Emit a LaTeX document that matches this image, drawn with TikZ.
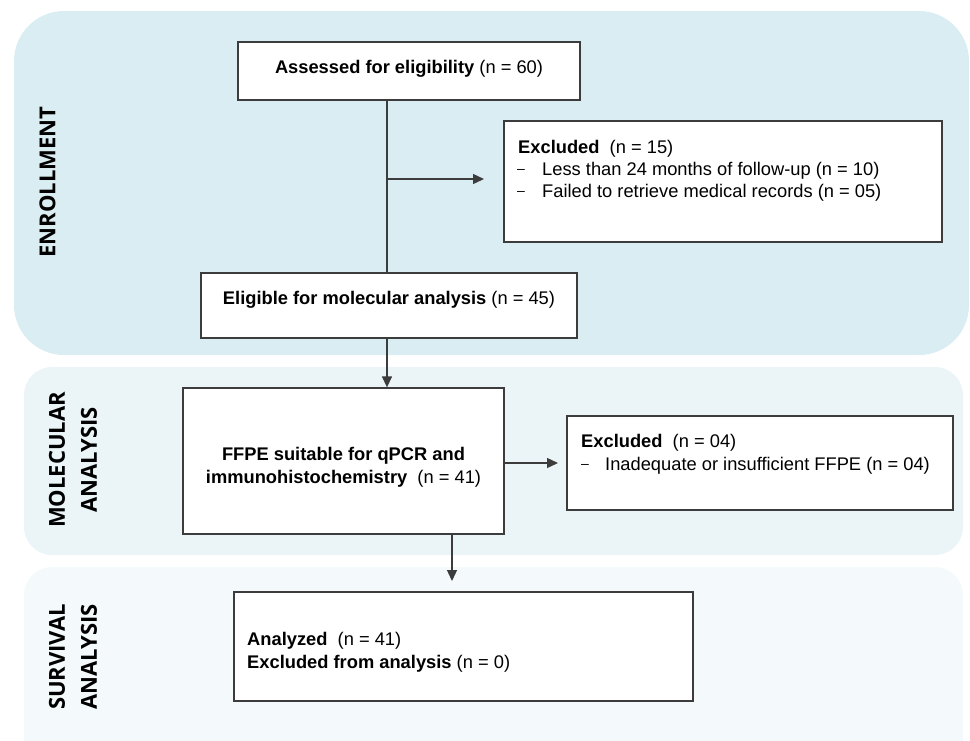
\documentclass[tikz,border=0pt]{standalone}
\usepackage{fontspec}
\setmainfont{Liberation Sans}
\newfontfamily\secfont{Open Sans}
\usetikzlibrary{arrows.meta}
\definecolor{bandA}{HTML}{DAEDF3}
\definecolor{bandB}{HTML}{EBF5F8}
\definecolor{bandC}{HTML}{F4F9FB}
\definecolor{edgec}{HTML}{3C3C3C}
\newcommand{\dashmark}{\raisebox{1.8pt}{\fontsize{14}{22}\selectfont –}}
\tikzset{
  box/.style={draw=edgec, line width=1.3pt, fill=white, inner sep=0pt},
  txt/.style={inner sep=0pt, font=\fontsize{18.3}{22}\selectfont, text=black},
  sec/.style={inner sep=0pt, rotate=90, align=center, font=\secfont\bfseries\fontsize{22}{32}\selectfont, text=black},
  conn/.style={draw=edgec, line width=1.3pt},
  arr/.style={conn, -{Triangle[length=11pt,width=10pt]}}
}
\begin{document}
\begin{tikzpicture}[x=1pt,y=-1pt]
\useasboundingbox (0,0) rectangle (970,740);
% bands
\fill[bandA, rounded corners=50pt] (14,11) rectangle (969,355);
\fill[bandB, rounded corners=28pt] (24,367) rectangle (963,555);
\fill[bandC, rounded corners=28pt] (24,567) rectangle (963,770);
% section labels
\node[sec] (lenr) at (47.5,182) {ENROLLMENT};
\node[sec] (lmol) at (73,460) {MOLECULAR\\ANALYSIS};
\node[sec] (lsur) at (73,657) {SURVIVAL\\ANALYSIS};
% boxes
\node[box, minimum width=342pt, minimum height=58pt] (assess) at (409,71) {};
\node[box, minimum width=438pt, minimum height=121pt] (excl1) at (723,181.5) {};
\node[box, minimum width=376pt, minimum height=65pt] (elig) at (389,305.5) {};
\node[box, minimum width=321pt, minimum height=146pt] (ffpe) at (343.5,461) {};
\node[box, minimum width=386pt, minimum height=94pt] (excl2) at (760,463) {};
\node[box, minimum width=459pt, minimum height=109pt] (anal) at (463.5,646.5) {};
% texts
\node[txt, anchor=base] (tassess) at (409,73.5) {\textbf{Assessed for eligibility} (n = 60)};
\node[txt, anchor=base west] (te1a) at (518,153.5) {\textbf{Excluded}\ \ (n = 15)};
\node[txt, anchor=base west] (te1b) at (517,175.5) {\dashmark};
\node[txt, anchor=base west] (te1c) at (542,175.5) {Less than 24 months of follow-up (n = 10)};
\node[txt, anchor=base west] (te1d) at (517,197.5) {\dashmark};
\node[txt, anchor=base west] (te1e) at (542,197.5) {Failed to retrieve medical records (n = 05)};
\node[txt, anchor=base] (telig) at (389,304.5) {\textbf{Eligible for molecular analysis} (n = 45)};
\node[txt, anchor=base] (tffa) at (343.5,460.5) {\textbf{FFPE suitable for qPCR and}};
\node[txt, anchor=base] (tffb) at (343.5,483.5) {\textbf{immunohistochemistry}\ \ (n = 41)};
\node[txt, anchor=base west] (te2a) at (581,447.5) {\textbf{Excluded}\ \ (n = 04)};
\node[txt, anchor=base west] (te2b) at (581,470) {\dashmark};
\node[txt, anchor=base west] (te2c) at (605,470) {Inadequate or insufficient FFPE (n = 04)};
\node[txt, anchor=base west] (tana) at (247,645.5) {\textbf{Analyzed}\ \ (n = 41)};
\node[txt, anchor=base west] (tanb) at (247,668.5) {\textbf{Excluded from analysis} (n = 0)};
% connectors
\coordinate (spine) at (387,0);
\coordinate (b1) at (484,179);
\coordinate (b2) at (558,463);
\coordinate (b3) at (452,581);
\draw[conn] (assess.south -| spine) -- (elig.north -| spine);
\draw[arr] (spine |- b1) -- (b1);
\draw[arr] (elig.south -| spine) -- (ffpe.north -| spine);
\draw[arr] (ffpe.east |- b2) -- (b2);
\draw[arr] (b3 |- ffpe.south) -- (b3);
\end{tikzpicture}
\end{document}
